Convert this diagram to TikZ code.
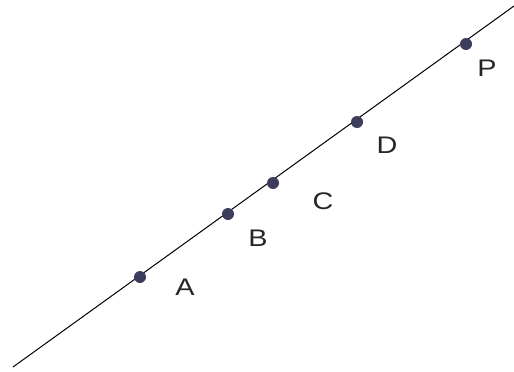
\documentclass[tikz,border=0pt]{standalone}
\usepackage{fontspec}
\setmainfont{Liberation Sans}
\definecolor{dotc}{HTML}{3C3C5C}
\newcommand{\widelbl}[1]{\scalebox{1.2}[1]{#1}}
\begin{document}
\begin{tikzpicture}[x=1pt,y=-1pt,
  pt/.style={circle,fill=dotc,inner sep=0pt,minimum size=12pt},
  lbl/.style={font=\fontsize{24}{24}\selectfont,inner sep=0pt,text=black!85}]
\useasboundingbox (0,0) rectangle (514,372);
\coordinate (s) at (13,367);
\coordinate (e) at (514,6);
\draw[line width=1pt] (s) -- (e);
\node[pt] (A) at (140,277) {};
\node[pt] (B) at (228,214) {};
\node[pt] (C) at (273,183) {};
\node[pt] (D) at (357,122) {};
\node[pt] (P) at (466,44) {};
\node[lbl] (lA) at (185,287) {\widelbl{A}};
\node[lbl] (lB) at (258,238) {\widelbl{B}};
\node[lbl] (lC) at (323,201) {\widelbl{C}};
\node[lbl] (lD) at (387,145) {\widelbl{D}};
\node[lbl] (lP) at (487,68) {\widelbl{P}};
\end{tikzpicture}
\end{document}
